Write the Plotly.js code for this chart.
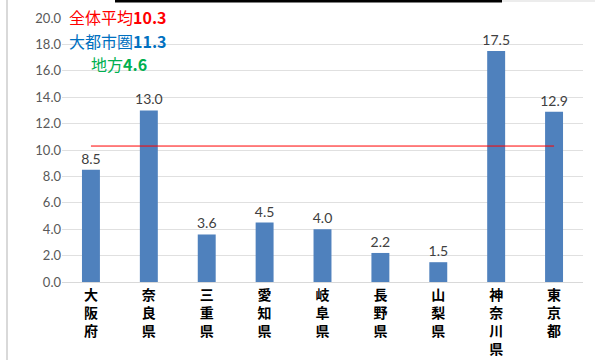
<!DOCTYPE html>
<html><head><meta charset="utf-8">
<script src="https://cdn.plot.ly/plotly-3.0.1.min.js"></script>
<style>html,body{margin:0;padding:0;background:#fff;}#chart{width:595px;height:360px;}</style>
</head><body><div id="chart"></div>
<script>
const categories = ["大阪府","奈良県","三重県","愛知県","岐阜県","長野県","山梨県","神奈川県","東京都"];
const values = [8.5, 13.0, 3.6, 4.5, 4.0, 2.2, 1.5, 17.5, 12.9];
const overallAvg = 10.3;
const metroAvg = 11.3;
const localAvg = 4.6;
const yTicks = [0,2,4,6,8,10,12,14,16,18,20];

const tickText = categories.map(c => c.split("").join("<br>"));
const W = 595, H = 360, mL = 62, mR = 12, mT = 18, mB = 78;
const pw = W - mL - mR, ph = H - mT - mB;
const px = x => (x - mL) / pw;
const py = y => (H - mB - y) / ph;

const bar = {
  type: "bar", x: categories, y: values,
  marker: {color: "#4F81BD"},
  text: values.map(v => v.toFixed(1)), textposition: "outside", constraintext: "none",
  textfont: {family: "Lato, 'Liberation Sans', sans-serif", size: 14, color: "#404040"},
  cliponaxis: false, hoverinfo: "none"
};
const avgLine = {
  type: "scatter", mode: "lines", x: categories, y: categories.map(() => overallAvg),
  line: {color: "#FF0000", width: 1}, hoverinfo: "none"
};
const cjk = "'Noto Sans CJK JP', sans-serif";
const layout = {
  width: W, height: H, showlegend: false,
  margin: {l: mL, r: mR, t: mT, b: mB, pad: 0},
  paper_bgcolor: "#fff", plot_bgcolor: "#fff",
  bargap: 0.69,
  xaxis: {type: "category", tickvals: categories, ticktext: tickText,
    tickfont: {family: cjk, size: 14, color: "#000", weight: "bold"},
    showgrid: false, showline: true, linecolor: "#D9D9D9", ticks: "", ticklen: 0,
    tickangle: 0, automargin: false},
  yaxis: {range: [0, 20], tickvals: yTicks, ticktext: yTicks.map(v => v.toFixed(1)),
    tickfont: {family: "Lato, 'Liberation Sans', sans-serif", size: 13, color: "#595959"},
    gridcolor: "#E0E0E0", gridwidth: 1, zeroline: false, showline: false, ticks: "",
    automargin: false},
  annotations: [
    {xref: "paper", yref: "paper", x: px(67), y: py(17), xanchor: "left", yanchor: "middle", showarrow: false,
     text: "全体平均<b>" + overallAvg.toFixed(1) + "</b>", font: {family: cjk, size: 16, color: "#FF0000"}},
    {xref: "paper", yref: "paper", x: px(67), y: py(41), xanchor: "left", yanchor: "middle", showarrow: false,
     text: "大都市圏<b>" + metroAvg.toFixed(1) + "</b>", font: {family: cjk, size: 16, color: "#0070C0"}},
    {xref: "paper", yref: "paper", x: px(89), y: py(64), xanchor: "left", yanchor: "middle", showarrow: false,
     text: "地方<b>" + localAvg.toFixed(1) + "</b>", font: {family: cjk, size: 16, color: "#00B050"}}
  ],
  shapes: [
    {type: "line", xref: "paper", yref: "paper", x0: px(7), x1: px(7), y0: py(0), y1: py(360), line: {color: "#D9D9D9", width: 2}},
    {type: "line", xref: "paper", yref: "paper", x0: px(502), x1: px(595), y0: py(1), y1: py(1), line: {color: "#D9D9D9", width: 1}},
    {type: "line", xref: "paper", yref: "paper", x0: px(115), x1: px(502), y0: py(1), y1: py(1), line: {color: "#000", width: 3}}
  ]
};
Plotly.newPlot("chart", [bar, avgLine], layout, {staticPlot: true, displayModeBar: false});
</script></body></html>
